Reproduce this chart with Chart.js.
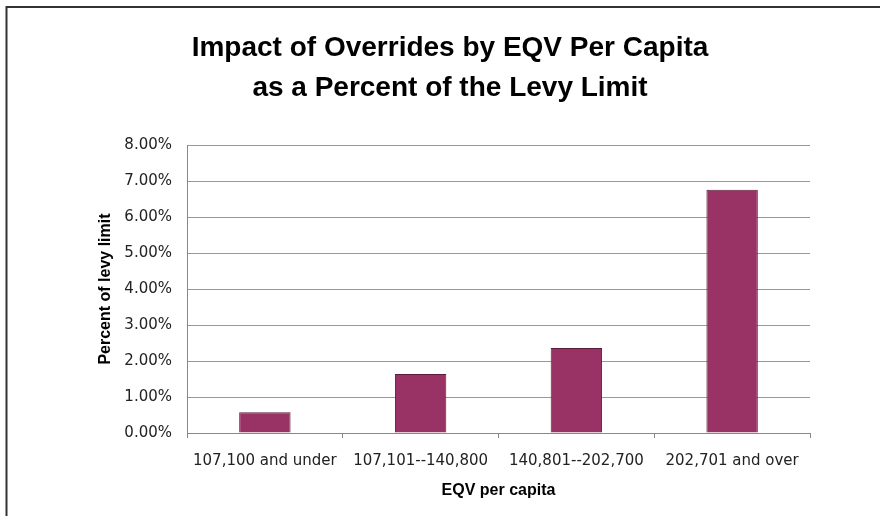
<!DOCTYPE html>
<html>
<head>
<meta charset="utf-8">
<script src="https://cdn.jsdelivr.net/npm/chart.js@4/dist/chart.umd.min.js"></script>
<style>
  body { margin: 0; background: #fff; }
  #wrap { width: 880px; height: 516px; }
</style>
</head>
<body>
<div id="wrap"><canvas id="myBarChart" width="880" height="516"></canvas></div>
<script>
const categories = ['107,100 and under', '107,101--140,800', '140,801--202,700', '202,701 and over'];
const percentOfLevy = [0.58, 1.64, 2.36, 6.76];
const yTicks = [0, 1, 2, 3, 4, 5, 6, 7, 8];

const font = "'Liberation Sans', Arial, sans-serif";
const tickFont = "'DejaVu Sans', sans-serif";

// dark frame on the top and left edge of the picture
const framePlugin = {
    id: 'frame',
    afterDraw(chart) {
        const ctx = chart.ctx;
        ctx.save();
        ctx.strokeStyle = '#333';
        ctx.lineWidth = 2;
        ctx.beginPath();
        ctx.moveTo(880, 7);
        ctx.lineTo(6.5, 7);
        ctx.lineTo(6.5, 516);
        ctx.stroke();
        ctx.restore();
    }
};

const barCtx = document.getElementById("myBarChart").getContext("2d");

const myBarChart = new Chart(barCtx, {
    type: 'bar',
    data: {
        labels: categories,
        datasets: [{
            label: 'Percent of levy limit',
            data: percentOfLevy,
            backgroundColor: '#993366',
            borderColor: '#5a1d3c',
            borderWidth: 1,
            barPercentage: 0.33,
            categoryPercentage: 1
        }]
    },
    options: {
        responsive: false,
        maintainAspectRatio: false,
        animation: false,
        layout: {
            padding: { left: 90, right: 70, top: 0, bottom: 16 }
        },
        plugins: {
            legend: { display: false },
            tooltip: { enabled: false },
            title: {
                display: true,
                text: ['Impact of Overrides by EQV Per Capita', 'as a Percent of the Levy Limit'],
                color: '#000',
                font: { family: font, size: 28, weight: 'bold', lineHeight: 1.43 },
                padding: { top: 28, bottom: 37 }
            }
        },
        scales: {
            x: {
                grid: {
                    display: true,
                    offset: true,
                    drawOnChartArea: true,
                    color: (c) => c.index === categories.length ? '#c0c0c0' : 'rgba(0,0,0,0)',
                    tickColor: '#888',
                    tickLength: 5
                },
                border: { display: true, color: '#888', width: 1 },
                ticks: {
                    color: '#222',
                    font: { family: tickFont, size: 15 },
                    padding: 14,
                    maxRotation: 0
                },
                title: {
                    display: true,
                    text: 'EQV per capita',
                    color: '#000',
                    font: { family: font, size: 16, weight: 'bold' },
                    padding: { top: 4, bottom: 0 }
                },
                afterFit(scale) { scale.height = 67; }
            },
            y: {
                min: 0,
                max: 8,
                afterBuildTicks(scale) {
                    scale.ticks = yTicks.map(v => ({ value: v }));
                },
                grid: {
                    color: '#999',
                    drawTicks: false
                },
                border: { display: true, color: '#888', width: 1 },
                ticks: {
                    color: '#222',
                    font: { family: tickFont, size: 15 },
                    padding: 15,
                    callback: (v) => v.toFixed(2) + '%'
                },
                title: {
                    display: true,
                    text: 'Percent of levy limit',
                    color: '#000',
                    font: { family: font, size: 16, weight: 'bold' },
                    padding: { top: 6, bottom: 0 }
                },
                afterFit(scale) { scale.width = 97; }
            }
        }
    },
    plugins: [framePlugin]
});
</script>
</body>
</html>
